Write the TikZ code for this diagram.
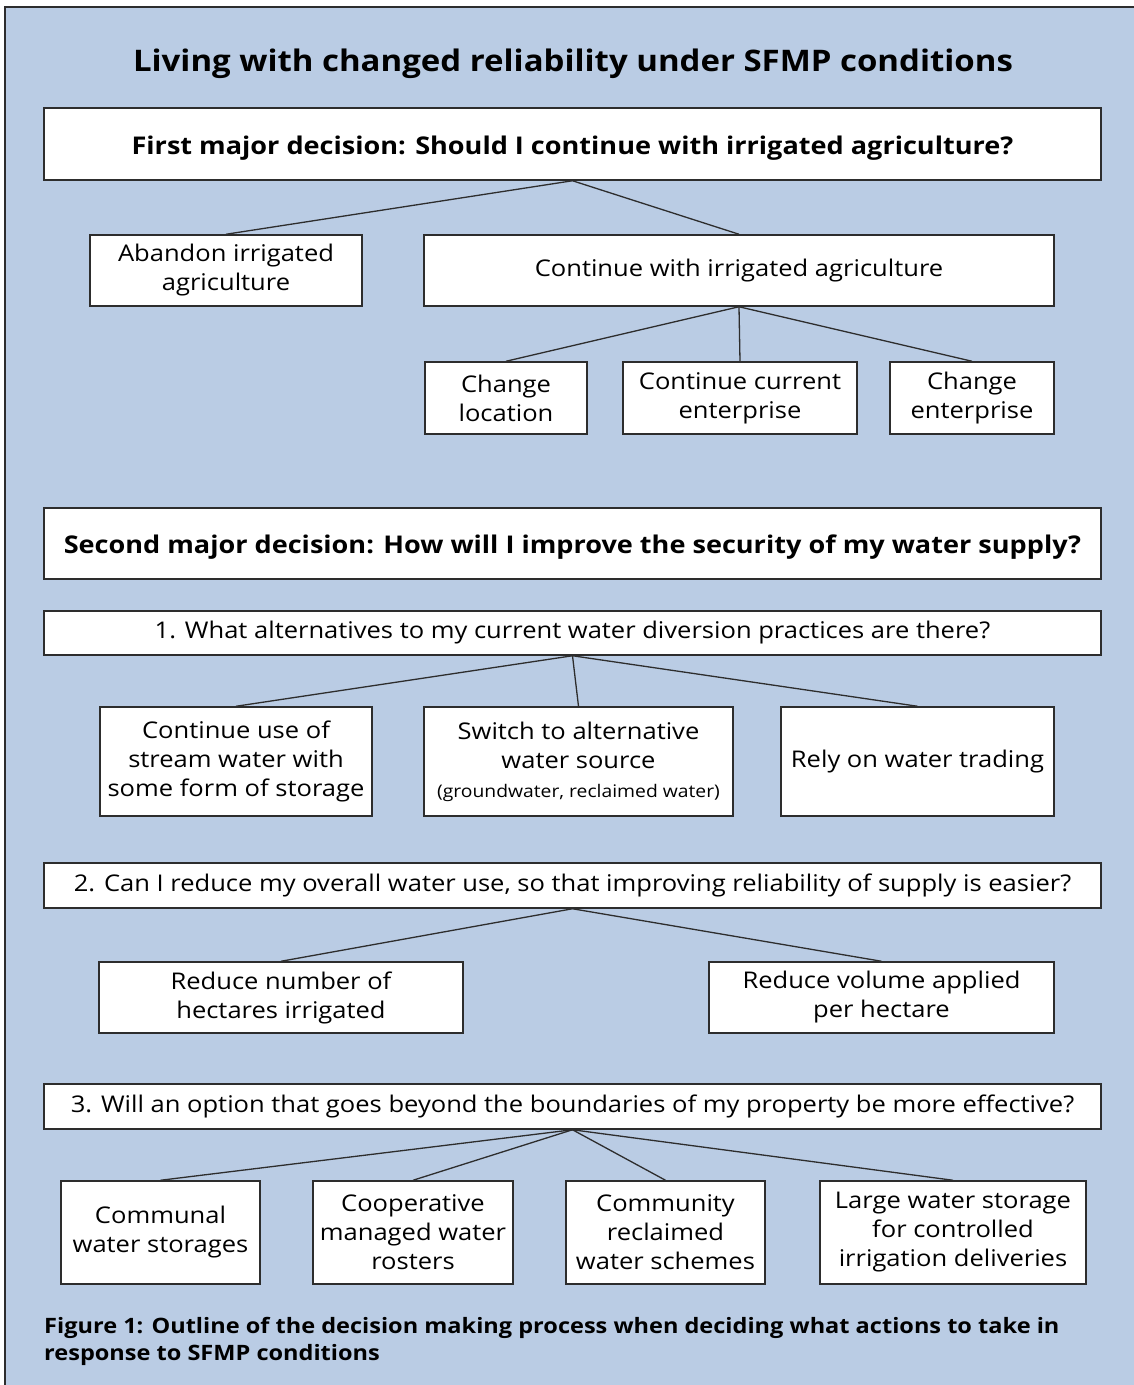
\documentclass[tikz,border=0pt]{standalone}
\usepackage{xcolor}
\usepackage{fontspec}
\setmainfont[FakeStretch=1.11]{Open Sans}
\usepackage{tikz}
\usetikzlibrary{calc}

\definecolor{panelblue}{RGB}{186,204,228}
\definecolor{edgegray}{RGB}{45,45,45}

\tikzset{
  decbox/.style={draw=edgegray, fill=white, line width=1.5pt, minimum width=1057pt,
                 inner sep=0pt, align=center, font=\fontsize{23}{29}\selectfont},
  optbox/.style={draw=edgegray, fill=white, line width=1.5pt, inner sep=0pt,
                 align=center, font=\fontsize{23}{29}\selectfont},
  bigq/.style={font=\fontsize{24.4}{29}\selectfont\bfseries, text height=22pt, text depth=2pt},
  link/.style={edgegray, line width=1.3pt}
}

\begin{document}
\begin{tikzpicture}[x=1pt,y=-1pt]
                \useasboundingbox (0,0) rectangle (1134,1385);
                \fill[white] (0,0) rectangle (1134,1385);
                \fill[panelblue] (5,7) rectangle (1134,1385);
                \draw[edgegray, line width=1.5pt] (5,1385) -- (5,7) -- (1134,7);

                \node[font=\fontsize{29.7}{36}\selectfont\bfseries] (title) at (573,64)
                    {Living with changed reliability under SFMP conditions};

                % first decision
                \node[decbox, bigq, minimum height=72pt] (first) at (572.5,144)
                    {First major decision: Should I continue with irrigated agriculture?};
                \node[optbox, minimum width=272pt, minimum height=71pt] (abandon) at (226,270.5)
                    {Abandon irrigated\\agriculture};
                \node[optbox, minimum width=630pt, minimum height=71pt] (cont) at (739,270.5)
                    {Continue with irrigated agriculture};
                \node[optbox, minimum width=162pt, minimum height=72pt] (location) at (506,398)
                    {Change\\location};
                \node[optbox, minimum width=234pt, minimum height=72pt] (current) at (740,398)
                    {Continue current\\enterprise};
                \node[optbox, minimum width=164pt, minimum height=72pt] (enterprise) at (972,398)
                    {Change\\enterprise};

                \draw[link] (first.south) -- (abandon.north);
                \draw[link] (first.south) -- (cont.north);
                \draw[link] (cont.south) -- (location.north);
                \draw[link] (cont.south) -- (current.north);
                \draw[link] (cont.south) -- (enterprise.north);

                % second decision
                \node[decbox, bigq, minimum height=71pt] (second) at (572.5,543.5)
                    {Second major decision: How will I improve the security of my water supply?};

                \node[decbox, minimum height=44pt] (qone) at (572.5,633)
                    {1. What alternatives to my current water diversion practices are there?};
                \node[optbox, minimum width=272pt, minimum height=109pt] (storage) at (236,761.5)
                    {Continue use of\\stream water with\\some form of storage};
                \node[optbox, minimum width=309pt, minimum height=109pt] (source) at (578.5,761.5)
                    {Switch to alternative\\water source\\{\fontsize{17.4}{29}\selectfont(groundwater, reclaimed water)}};
                \node[optbox, minimum width=273pt, minimum height=109pt] (trading) at (917.5,761.5)
                    {Rely on water trading};

                \draw[link] (qone.south) -- (storage.north);
                \draw[link] (qone.south) -- (source.north);
                \draw[link] (qone.south) -- (trading.north);

                \node[decbox, minimum height=45pt] (qtwo) at (572.5,885.5)
                    {2. Can I reduce my overall water use, so that improving reliability of supply is easier?};
                \node[optbox, minimum width=364pt, minimum height=71pt] (hectares) at (281,997.5)
                    {Reduce number of\\hectares irrigated};
                \node[optbox, minimum width=345pt, minimum height=71pt] (volume) at (881.5,997.5)
                    {Reduce volume applied\\per hectare};

                \draw[link] (qtwo.south) -- (hectares.north);
                \draw[link] (qtwo.south) -- (volume.north);

                \node[decbox, minimum height=45pt] (qthree) at (572.5,1106.5)
                    {3. Will an option that goes beyond the boundaries of my property be more effective?};
                \node[optbox, minimum width=199pt, minimum height=103pt] (communal) at (160.5,1232.5)
                    {Communal\\water storages};
                \node[optbox, minimum width=200pt, minimum height=103pt] (rosters) at (413,1232.5)
                    {Cooperative\\managed water\\rosters};
                \node[optbox, minimum width=199pt, minimum height=103pt] (reclaimed) at (665.5,1232.5)
                    {Community\\reclaimed\\water schemes};
                \node[optbox, minimum width=266pt, minimum height=103pt] (large) at (953,1232.5)
                    {Large water storage\\for controlled\\irrigation deliveries};

                \draw[link] (qthree.south) -- (communal.north);
                \draw[link] (qthree.south) -- (rosters.north);
                \draw[link] (qthree.south) -- (reclaimed.north);
                \draw[link] (qthree.south) -- (large.north);

                % caption
                \node[anchor=north west, align=left, inner sep=0pt,
                      font=\fontsize{21.2}{27}\selectfont\bfseries] (caption) at (44,1317)
                    {Figure 1: Outline of the decision making process when deciding what actions to take in\\response to SFMP conditions};
            \end{tikzpicture}
\end{document}
